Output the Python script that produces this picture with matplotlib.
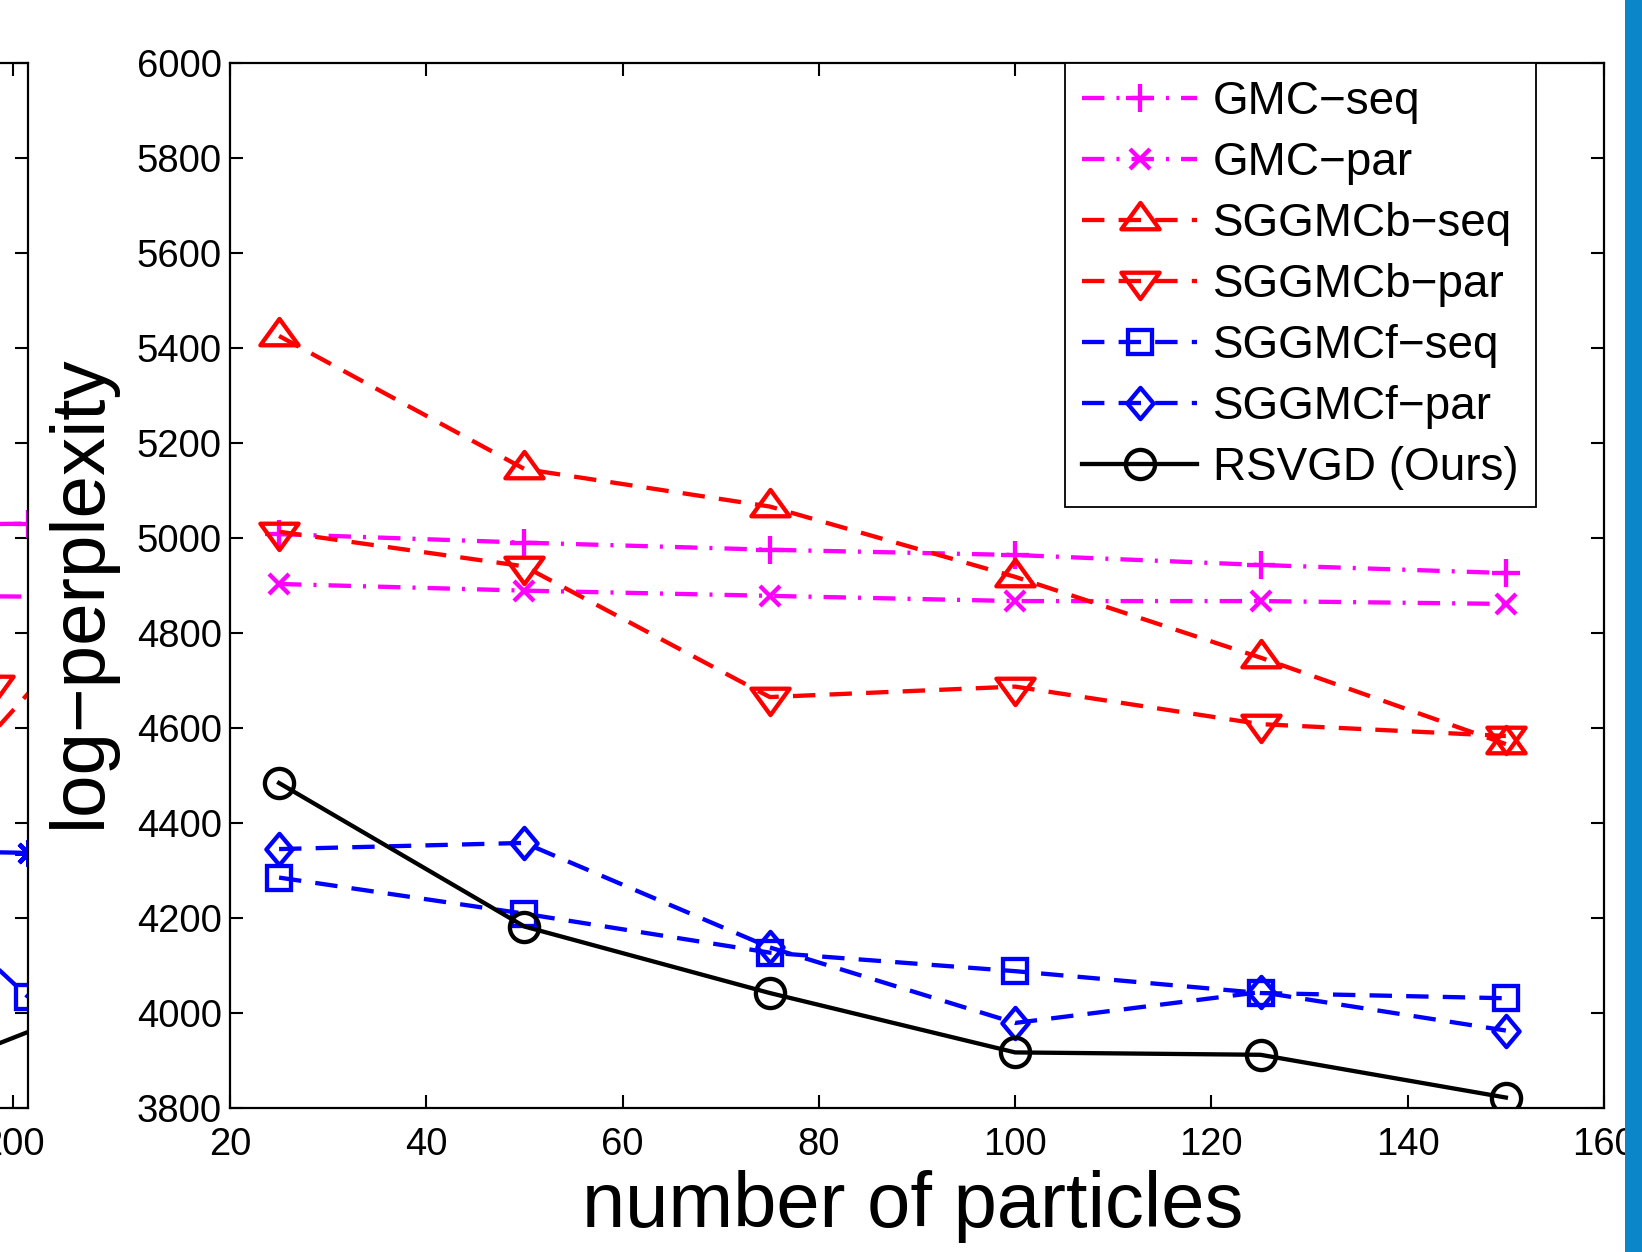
import matplotlib
matplotlib.use('Agg')
import matplotlib.pyplot as plt
from matplotlib.path import Path
from matplotlib.patches import Rectangle

# ---------------- data (main panel) ----------------
particles = [25, 50, 75, 100, 125, 150]
gmc_seq = [5008, 4990, 4975, 4964, 4943, 4926]
gmc_par = [4903, 4889, 4878, 4867, 4867, 4861]
sggmcb_seq = [5425, 5145, 5066, 4918, 4748, 4566]
sggmcb_par = [5013, 4940, 4665, 4687, 4608, 4583]
sggmcf_seq = [4285, 4209, 4127, 4088, 4042, 4031]
sggmcf_par = [4345, 4358, 4138, 3979, 4044, 3963]
rsvgd = [4484, 4182, 4042, 3917, 3912, 3822]

series_labels = ['GMC−seq', 'GMC−par', 'SGGMCb−seq', 'SGGMCb−par',
                 'SGGMCf−seq', 'SGGMCf−par', 'RSVGD (Ours)']
xticks = [20, 40, 60, 80, 100, 120, 140, 160]
yticks = [3800, 4000, 4200, 4400, 4600, 4800, 5000, 5200, 5400, 5600, 5800, 6000]
xlabel = 'number of particles'
ylabel = 'log−perplexity'

# ---------------- data (cut-off left panel fragment) ----------------
left_xticks = [200]
left_gmc_seq_x, left_gmc_seq = [175, 202], [5025, 5030]
left_gmc_par_x, left_gmc_par = [175, 205], [4880, 4876]
left_b_seq_x, left_b_seq = [190, 205], [4460, 4725]
left_b_par_x, left_b_par = [190, 197.5], [4640, 4690]
left_f_par_x, left_f_par = [175, 202], [4345, 4337]
left_f_seq_x, left_f_seq = [190, 202], [4212, 4034]
left_rsvgd_x, left_rsvgd = [190, 210], [3885, 4010]

# ---------------- style ----------------
plt.rcParams['font.family'] = ['Liberation Sans', 'DejaVu Sans']
W, H = 1642, 1252
fig = plt.figure(figsize=(W / 100, H / 100), dpi=100)

MAG, RED, BLUE, BLK = '#FF00FF', '#FF0000', '#0000FF', '#000000'
LW = 3.1
dash = (0, (5.2, 3.3))
dashdot = (0, (5.2, 2.8, 0.7, 2.8))

def tri(up=True, h=0.69):
    s = 1 if up else -1
    v = [(0, s * 2 * h / 3), (-0.5, -s * h / 3), (0.5, -s * h / 3), (0, s * 2 * h / 3)]
    return Path(v, [Path.MOVETO, Path.LINETO, Path.LINETO, Path.CLOSEPOLY])

def diamond(r=0.42):
    v = [(0, 0.5), (r, 0), (0, -0.5), (-r, 0), (0, 0.5)]
    return Path(v, [Path.MOVETO, Path.LINETO, Path.LINETO, Path.LINETO, Path.CLOSEPOLY])

TRI_UP, TRI_DN, DIA = tri(True), tri(False), diamond()

styles = [
    dict(color=MAG, ls=dashdot, marker='+', ms=19.5),
    dict(color=MAG, ls=dashdot, marker='x', ms=14),
    dict(color=RED, ls=dash, marker=TRI_UP, ms=27.5),
    dict(color=RED, ls=dash, marker=TRI_DN, ms=27.5),
    dict(color=BLUE, ls=dash, marker='s', ms=17.5),
    dict(color=BLUE, ls=dash, marker=DIA, ms=22.5),
    dict(color=BLK, ls='-', marker='o', ms=21),
]

def style_axes(ax):
    for sp in ax.spines.values():
        sp.set_linewidth(1.6)
    ax.tick_params(direction='in', length=9.4, width=1.5, top=True, right=True,
                   labelsize=27.5, colors='black')
    ax.tick_params(axis='x', pad=13.5)
    ax.tick_params(axis='y', pad=6)
    ax.set_ylim(3800, 6000)
    ax.set_yticks(yticks)

# main axes (pixel geometry)
L, R, T, B = 230, 1604, 62.8, 1108
ax = fig.add_axes([L / W, 1 - B / H, (R - L) / W, (B - T) / H])
style_axes(ax)
ax.set_xlim(20, 160)
ax.set_xticks(xticks)

all_series = [gmc_seq, gmc_par, sggmcb_seq, sggmcb_par, sggmcf_seq, sggmcf_par, rsvgd]
handles = []
for ys, st, lab in zip(all_series, styles, series_labels):
    h, = ax.plot(particles, ys, color=st['color'], ls=st['ls'], lw=LW,
                 marker=st['marker'], ms=st['ms'], mew=LW, mfc='none',
                 mec=st['color'], label=lab)
    handles.append(h)

ax.set_xlabel(xlabel, fontsize=56)
ax.set_ylabel(ylabel, fontsize=55)
ax.xaxis.set_label_coords(0.497, -0.059)
ax.yaxis.set_label_coords(-0.083, 0.494)

leg = ax.legend(handles=handles, loc='upper right', bbox_to_anchor=(0.9505, 1.0),
                borderaxespad=0, fontsize=33, numpoints=1, handlelength=2.5,
                handletextpad=0.35, labelspacing=0.37, borderpad=0.38,
                fancybox=False, framealpha=1, edgecolor='black')
leg.get_frame().set_linewidth(1.3)

# left, cut-off panel
LR = 28
axl = fig.add_axes([(LR - (R - L)) / W, 1 - B / H, (R - L) / W, (B - T) / H])
style_axes(axl)
axl.set_xlim(20, 202)
axl.set_xticks(left_xticks)
left_sets = [(left_gmc_seq_x, left_gmc_seq, styles[0]),
             (left_gmc_par_x, left_gmc_par, styles[1]),
             (left_b_seq_x, left_b_seq, styles[2]),
             (left_b_par_x, left_b_par, styles[3]),
             (left_f_seq_x, left_f_seq, styles[4]),
             (left_f_par_x, left_f_par, dict(styles[5], marker=(8, 2, 0), ms=19)),
             (left_rsvgd_x, left_rsvgd, styles[6])]
for xs, ys, st in left_sets:
    axl.plot(xs, ys, color=st['color'], ls=st['ls'], lw=LW, marker=st['marker'],
             ms=st['ms'], mew=LW, mfc='none', mec=st['color'])

# blue strip on the right edge
fig.patches.append(Rectangle((1625 / W, 0), 17 / W, 1, transform=fig.transFigure,
                             facecolor='#0B87C9', edgecolor='none', zorder=10))

fig.savefig('out.png', dpi=100)
